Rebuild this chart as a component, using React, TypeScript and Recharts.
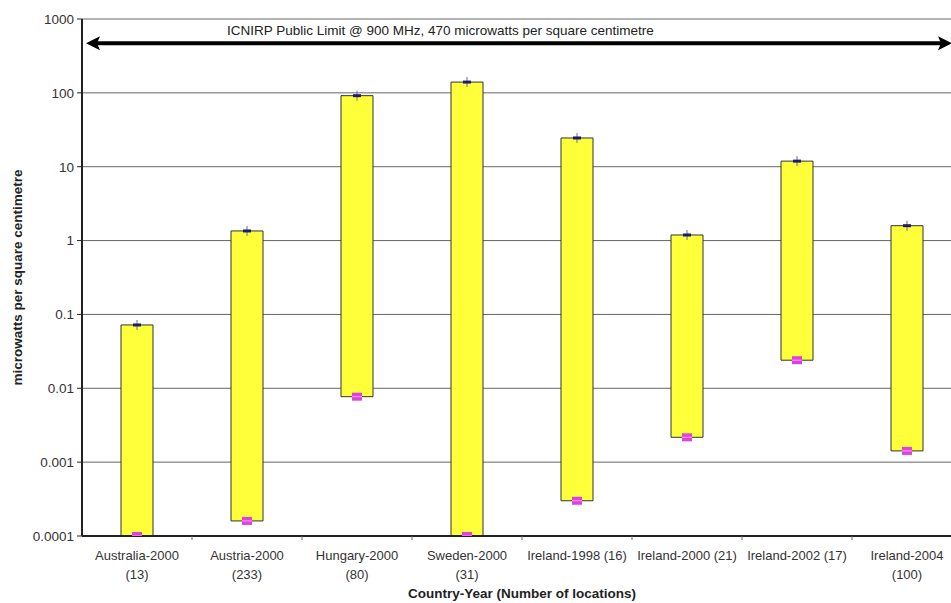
import React from "react"
import {
  ComposedChart,
  Bar,
  Scatter,
  XAxis,
  YAxis,
  CartesianGrid,
  ReferenceLine,
  Label,
} from "recharts"

// survey sites, one bar per country-year (number of locations)
const categories = [
  "Australia-2000\n(13)",
  "Austria-2000\n(233)",
  "Hungary-2000\n(80)",
  "Sweden-2000\n(31)",
  "Ireland-1998 (16)",
  "Ireland-2000 (21)",
  "Ireland-2002 (17)",
  "Ireland-2004\n(100)",
]
const maxValues = [0.072, 1.35, 91.6, 140, 24.5, 1.19, 11.9, 1.59]
const minValues = [0.0001, 0.00016, 0.0077, 0.0001, 0.0003, 0.00217, 0.024, 0.00142]
const yTicks = [0.0001, 0.001, 0.01, 0.1, 1, 10, 100, 1000]
const icnirpLimit = 470
const limitText = "ICNIRP Public Limit @ 900 MHz, 470 microwatts per square centimetre"

const chartData = categories.map((name, i) => ({
  name,
  range: [minValues[i], maxValues[i]],
  max: maxValues[i],
  min: minValues[i],
}))

// the plot runs a little past the right edge of the frame
const WIDTH = 970
const HEIGHT = 603
const MARGIN = { top: 19, right: 8, bottom: 27, left: 22 }
const Y_AXIS_W = 60
const PLOT_W = WIDTH - MARGIN.left - MARGIN.right - Y_AXIS_W
const FONT = "'Liberation Sans', Arial, sans-serif"

function CategoryTick(props: any) {
  const { x, y, payload, index } = props
  const lines = String(payload.value).split("\n")
  const band = PLOT_W / categories.length
  return (
    <g>
      {index < categories.length - 1 && (
        <line x1={x + band / 2} x2={x + band / 2} y1={y} y2={y + 4} stroke="#666" />
      )}
      <text x={x} y={y + 24} textAnchor="middle" fontSize={13} fill="#333" fontFamily={FONT}>
        {lines.map((l, i) => (
          <tspan key={i} x={x} dy={i === 0 ? 0 : 19}>
            {l}
          </tspan>
        ))}
      </text>
    </g>
  )
}

function MaxMarker(props: any) {
  const { cx, cy } = props
  return (
    <g>
      <line x1={cx} x2={cx} y1={cy - 5} y2={cy + 5} stroke="#6a6aa8" strokeWidth={1} />
      <rect x={cx - 4} y={cy - 1.5} width={8} height={3} fill="#1c1c6e" />
    </g>
  )
}

function MinMarker(props: any) {
  const { cx, cy } = props
  return (
    <g>
      <rect x={cx - 5} y={cy - 4} width={10} height={8} fill="#e040e0" />
      <line x1={cx - 5} x2={cx + 5} y1={cy} y2={cy} stroke="#f7a0f0" strokeWidth={1} />
    </g>
  )
}

function LimitArrow(props: any) {
  const { x1, x2, y1 } = props
  const left = x1 + 4
  const right = x2 - 10
  return (
    <g>
      <line x1={left + 10} x2={right - 10} y1={y1} y2={y1} stroke="#000" strokeWidth={4} />
      <polygon points={`${left},${y1} ${left + 14},${y1 - 7} ${left + 11},${y1} ${left + 14},${y1 + 7}`} fill="#000" />
      <polygon points={`${right},${y1} ${right - 14},${y1 - 7} ${right - 11},${y1} ${right - 14},${y1 + 7}`} fill="#000" />
      <text x={x1 + 145} y={y1 - 8} fontSize={13.5} fill="#222" fontFamily={FONT}>
        {limitText}
      </text>
    </g>
  )
}

export default function App() {
  return (
    <div style={{ position: "fixed", left: 0, top: 0, width: 951, height: 603, overflow: "hidden", background: "#fff" }}>
      <ComposedChart width={WIDTH} height={HEIGHT} data={chartData} margin={MARGIN}>
        <CartesianGrid vertical={false} stroke="#666" horizontalValues={yTicks} />
        <XAxis
          dataKey="name"
          interval={0}
          height={40}
          tickLine={false}
          tickSize={0}
          tickMargin={0}
          tick={<CategoryTick />}
          axisLine={{ stroke: "#222", strokeWidth: 2 }}
          label={
            <Label
              content={(p: any) => {
                const vb = p.viewBox
                return (
                  <text x={vb.x + vb.width / 2} y={vb.y + 62} textAnchor="middle" fontSize={13.5} fontWeight="bold" fill="#222" fontFamily={FONT}>
                    Country-Year (Number of locations)
                  </text>
                )
              }}
            />
          }
        />
        <YAxis
          scale="log"
          domain={[0.0001, 1000]}
          ticks={yTicks}
          allowDataOverflow
          width={Y_AXIS_W}
          tickSize={5}
          tickMargin={3}
          tickLine={{ stroke: "#222" }}
          axisLine={{ stroke: "#222", strokeWidth: 2 }}
          tick={{ fontSize: 13.5, fill: "#333", fontFamily: FONT }}
          tickFormatter={(v: number) => String(v)}
          label={
            <Label
              content={(p: any) => {
                const vb = p.viewBox
                const cx = vb.x - 5
                const cy = vb.y + vb.height / 2
                return (
                  <text x={cx} y={cy} transform={`rotate(-90 ${cx} ${cy})`} textAnchor="middle" dominantBaseline="central" fontSize={13.5} fontWeight="bold" fill="#222" fontFamily={FONT}>
                    microwatts per square centimetre
                  </text>
                )
              }}
            />
          }
        />
        <ReferenceLine y={icnirpLimit} shape={<LimitArrow />} />
        <Bar dataKey="range" barSize={32} fill="#ffff3a" stroke="#333" strokeWidth={1} isAnimationActive={false} />
        <Scatter dataKey="max" shape={<MaxMarker />} isAnimationActive={false} />
        <Scatter dataKey="min" shape={<MinMarker />} isAnimationActive={false} />
      </ComposedChart>
    </div>
  )
}
